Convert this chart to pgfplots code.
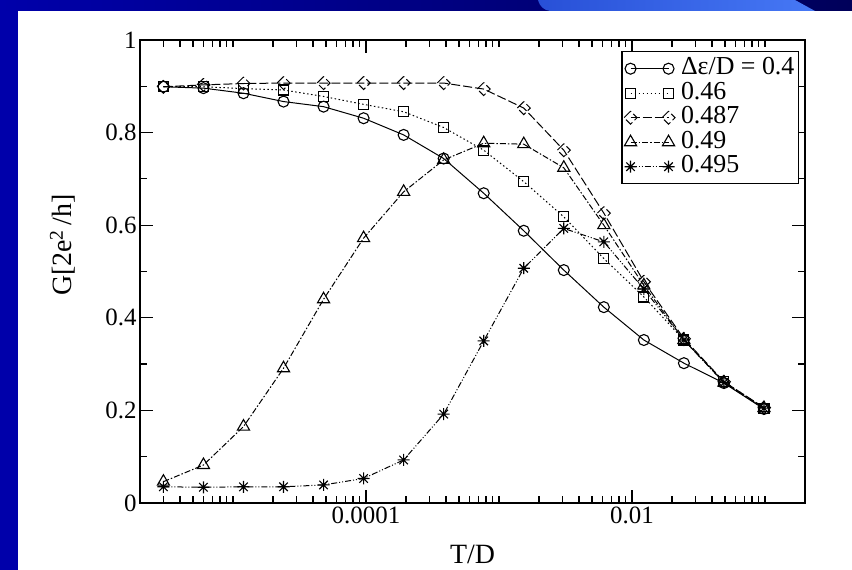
\documentclass[border=0pt]{standalone}
\usepackage{pgfplots}
\pgfplotsset{compat=1.18}
\usepackage{pgfplotstable}
\usepackage{fontspec}
\setmainfont{Liberation Serif}

\definecolor{slideblue}{RGB}{0,0,170}
\definecolor{navy}{RGB}{0,0,90}
\definecolor{swooshA}{RGB}{40,80,215}
\definecolor{swooshB}{RGB}{70,120,245}

% eight-armed star, as xmgrace draws it
\pgfdeclareplotmark{xstar}{%
  \pgfpathmoveto{\pgfqpoint{0pt}{\pgfplotmarksize}}%
  \pgfpathlineto{\pgfqpoint{0pt}{-\pgfplotmarksize}}%
  \pgfpathmoveto{\pgfqpoint{-\pgfplotmarksize}{0pt}}%
  \pgfpathlineto{\pgfqpoint{\pgfplotmarksize}{0pt}}%
  \pgfpathmoveto{\pgfqpoint{-.707\pgfplotmarksize}{-.707\pgfplotmarksize}}%
  \pgfpathlineto{\pgfqpoint{.707\pgfplotmarksize}{.707\pgfplotmarksize}}%
  \pgfpathmoveto{\pgfqpoint{-.707\pgfplotmarksize}{.707\pgfplotmarksize}}%
  \pgfpathlineto{\pgfqpoint{.707\pgfplotmarksize}{-.707\pgfplotmarksize}}%
  \pgfusepathqstroke}

% T/D   0.4   0.46   0.487   0.49   0.495
\pgfplotstableread{
x         c      s      d      t      st
3e-6      0.899  0.899  0.899  0.046  0.035
6e-6      0.896  0.899  0.903  0.082  0.034
1.2e-5    0.885  0.895  0.906  0.165  0.035
2.4e-5    0.867  0.892  0.907  0.291  0.035
4.8e-5    0.856  0.878  0.907  0.440  0.039
9.6e-5    0.831  0.861  0.907  0.572  0.053
1.92e-4   0.795  0.845  0.907  0.672  0.093
3.84e-4   0.744  0.811  0.907  0.741  0.192
7.68e-4   0.669  0.762  0.894  0.777  0.350
1.536e-3  0.588  0.694  0.853  0.775  0.507
3.072e-3  0.503  0.618  0.762  0.724  0.593
6.144e-3  0.423  0.528  0.626  0.600  0.564
1.2288e-2 0.352  0.445  0.478  0.470  0.462
2.4576e-2 0.302  0.352  0.355  0.352  0.352
4.9152e-2 0.259  0.262  0.262  0.260  0.260
9.8304e-2 0.203  0.205  0.206  0.205  0.205
}\data

\begin{document}
\begin{tikzpicture}[x=1bp,y=1bp]
\useasboundingbox (0,0) rectangle (852,570);
% slide background
\fill[slideblue] (0,0) rectangle (852,570);
\shade[left color=slideblue, right color=navy] (0,559) rectangle (852,570);
\shade[left color=swooshA, right color=swooshB]
  (538,570) .. controls (540,563) and (544,560) .. (550,559) -- (815,559) -- (795,570) -- cycle;
\fill[white] (18,0) rectangle (852,559);

\begin{axis}[
  at={(140bp,67bp)}, anchor=south west,
  scale only axis, width=665bp, height=463bp,
  xmode=log, xmin=2e-6, xmax=0.2, ymin=0, ymax=1,
  xtick={1e-4,1e-2}, xticklabels={0.0001,0.01},
  minor xtick={3e-6,4e-6,5e-6,6e-6,7e-6,8e-6,9e-6,1e-5,
    2e-5,3e-5,4e-5,5e-5,6e-5,7e-5,8e-5,9e-5,
    2e-4,3e-4,4e-4,5e-4,6e-4,7e-4,8e-4,9e-4,1e-3,
    2e-3,3e-3,4e-3,5e-3,6e-3,7e-3,8e-3,9e-3,
    2e-2,3e-2,4e-2,5e-2,6e-2,7e-2,8e-2,9e-2,1e-1},
  ytick={0,0.2,0.4,0.6,0.8,1}, yticklabels={0,0.2,0.4,0.6,0.8,1},
  minor ytick={0.1,0.3,0.5,0.7,0.9},
  major tick length=13bp, minor tick length=7bp,
  axis line style={line width=1.5bp},
  every tick/.style={black, line width=1.2bp},
  tick label style={font=\fontsize{25}{25}\selectfont},
  xlabel={T/D},
  ylabel={G[2e\textsuperscript{2}\,/h]},
  every axis x label/.style={at={(axis description cs:0.5,-0.112)}, anchor=center,
    font=\fontsize{28}{28}\selectfont},
  every axis y label/.style={at={(axis description cs:-0.116,0.557)}, rotate=90, anchor=center,
    font=\fontsize{28}{28}\selectfont},
  legend style={at={(axis description cs:0.991,0.976)}, anchor=north east,
    draw=black, line width=1.2bp, inner xsep=2bp, inner ysep=6bp,
    font=\fontsize{26}{26}\selectfont,
    nodes={inner ysep=0bp, inner xsep=2bp, text height=17bp, text depth=5bp},
    row sep=2.5bp,
    /tikz/every odd column/.append style={column sep=4bp}},
  legend cell align=left,
  legend image code/.code={\draw plot coordinates {(0bp,0bp) (38bp,0bp)};},
  every axis plot/.append style={black, line width=1bp, mark options={solid, line width=1.1bp}},
]
\addplot[mark=o, mark size=5.5bp] table[x=x,y=c] {\data};
\addlegendentry{Δε/D = 0.4}
\addplot[mark=square, mark size=5bp, dash pattern=on 1.5bp off 2.5bp] table[x=x,y=s] {\data};
\addlegendentry{0.46}
\addplot[mark=square, mark size=4.6bp, mark options={rotate=45}, dash pattern=on 9bp off 3bp] table[x=x,y=d] {\data};
\addlegendentry{0.487}
\addplot[mark=triangle, mark size=7bp, dash pattern=on 6bp off 2bp on 1.5bp off 2bp] table[x=x,y=t] {\data};
\addlegendentry{0.49}
\addplot[mark=xstar, mark size=6bp, dash pattern=on 6bp off 2bp on 1bp off 2bp on 1bp off 2bp] table[x=x,y=st] {\data};
\addlegendentry{0.495}
\end{axis}
\end{tikzpicture}
\end{document}
